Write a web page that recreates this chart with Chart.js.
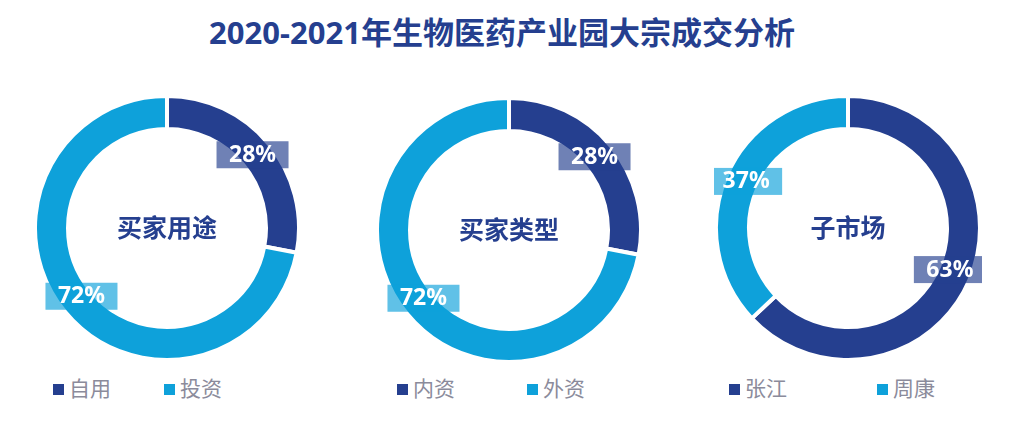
<!DOCTYPE html>
<html>
<head>
<meta charset="utf-8">
<script src="https://cdn.jsdelivr.net/npm/chart.js@4/dist/chart.umd.min.js"></script>
<style>
  body { margin: 0; background: #fff; font-family: "Noto Sans", "Noto Sans CJK SC", sans-serif; }
  #wrap { position: relative; width: 1031px; height: 439px; overflow: hidden; }
  #title { position: absolute; left: 0; width: 1004px; top: 8px; text-align: center;
           font-size: 31px; font-weight: bold; color: #253f8f; }
  .box { position: absolute; width: 268px; height: 268px; }
  .leg { position: absolute; top: 372px; font-size: 21px; color: #8b8b9b; font-family: "Noto Sans CJK SC", sans-serif; }
  .leg i { display: inline-block; width: 11px; height: 11px; margin-right: 5px; vertical-align: 1px; }
</style>
</head>
<body>
<div id="wrap">
  <div id="title">2020-2021年生物医药产业园大宗成交分析</div>
  <div class="box" style="left:33px;top:94px"><canvas id="c1"></canvas></div>
  <div class="box" style="left:375px;top:96px"><canvas id="c2"></canvas></div>
  <div class="box" style="left:714px;top:94px"><canvas id="c3"></canvas></div>
  <div id="legends"></div>
</div>
<script>
var centerNames = ["买家用途", "买家类型", "子市场"]
var labels1 = ["自用", "投资"]
var labels2 = ["内资", "外资"]
var labels3 = ["张江", "周康"]
var values1 = [28, 72]
var values2 = [28, 72]
var values3 = [63, 37]

var dark = "#253f8f"
var light = "#0ea1da"
var boxColors = ["rgba(37,63,143,0.66)", "rgba(14,161,218,0.66)"]

// legend x positions (square left) per chart
var legendX = [[53, 164], [397, 527], [729, 877]]

var pctLabels = {
  id: "pctLabels",
  afterDatasetsDraw: function(chart) {
    var ctx = chart.ctx
    var meta = chart.getDatasetMeta(0)
    var data = chart.data.datasets[0].data
    meta.data.forEach(function(arc, i) {
      var p = arc.getProps(["x", "y", "startAngle", "endAngle", "innerRadius", "outerRadius"], true)
      var mid = (p.startAngle + p.endAngle) / 2
      var r = p.innerRadius + 12
      var x = p.x + Math.cos(mid) * r
      var y = p.y + Math.sin(mid) * r - 3
      ctx.save()
      ctx.fillStyle = boxColors[i]
      ctx.fillRect(x - 36, y - 13, 72, 27)
      ctx.fillStyle = "#fff"
      ctx.font = "bold 23px 'Noto Sans', sans-serif"
      ctx.textAlign = "center"
      ctx.textBaseline = "middle"
      ctx.fillText(data[i] + "%", x, y + 1)
      ctx.restore()
    })
    var c = meta.data[0]
    ctx.save()
    ctx.fillStyle = dark
    ctx.font = "bold 25px 'Noto Sans CJK SC', sans-serif"
    ctx.textAlign = "center"
    ctx.textBaseline = "middle"
    ctx.fillText(chart.options.centerText, c.x, c.y - 1)
    ctx.restore()
  }
}

function makeChart(id, labels, values, name) {
  return new Chart(document.getElementById(id), {
    type: "doughnut",
    data: {
      labels: labels,
      datasets: [{
        data: values,
        backgroundColor: [dark, light],
        borderColor: "#fff",
        borderWidth: 4,
        hoverOffset: 0
      }]
    },
    options: {
      centerText: name,
      responsive: true,
      maintainAspectRatio: false,
      animation: false,
      cutout: "75%",
      plugins: { legend: { display: false }, tooltip: { enabled: false } }
    },
    plugins: [pctLabels]
  })
}

makeChart("c1", labels1, values1, centerNames[0])
makeChart("c2", labels2, values2, centerNames[1])
makeChart("c3", labels3, values3, centerNames[2])

var legHtml = ""
var allLabels = [labels1, labels2, labels3]
allLabels.forEach(function(ls, k) {
  ls.forEach(function(l, i) {
    legHtml += '<div class="leg" style="left:' + legendX[k][i] + 'px"><i style="background:' +
      (i == 0 ? dark : light) + '"></i>' + l + '</div>'
  })
})
document.getElementById("legends").innerHTML = legHtml
</script>
</body>
</html>
